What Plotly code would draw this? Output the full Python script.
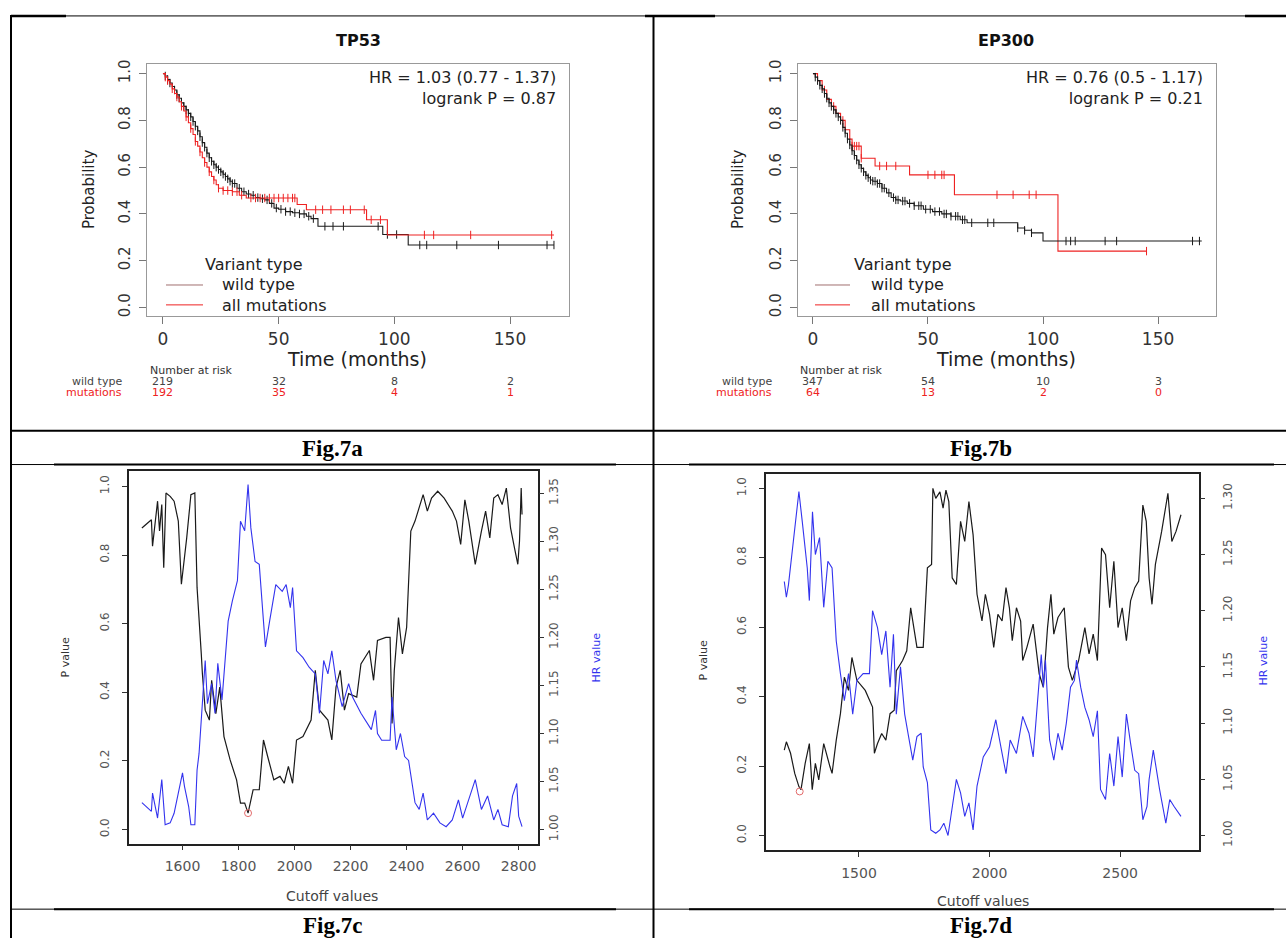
import numpy as np
import plotly.graph_objects as go

W, H = 1286, 939
def px(x): return x / W
def py(y): return 1 - y / H

FONT = "DejaVu Sans"

# ---------------- Fig.7a  TP53 Kaplan-Meier ----------------
tp53_wt_t = [0,1,2,3,4,5,6,7,8,9,10,11,12,13,14,15,16,17,18,19,20,21,22,23,24,25,26,27,28,29,30,32,34,36,38,40,42,44,46,48,50,53,56,59,62,64,67,95,106]
tp53_wt_s = [1.0,0.99,0.975,0.96,0.945,0.93,0.91,0.895,0.875,0.86,0.845,0.83,0.815,0.795,0.775,0.755,0.73,0.705,0.685,0.66,0.64,0.625,0.61,0.60,0.59,0.58,0.57,0.56,0.55,0.54,0.53,0.51,0.495,0.485,0.48,0.47,0.465,0.46,0.445,0.425,0.42,0.41,0.405,0.40,0.39,0.38,0.347,0.312,0.267]
tp53_wt_end = 169
tp53_wt_cens = [1,2,3,5,6,7,8,9,10,11,12,13,14,15,16,17,18,19,20,21,22,23,24,25,26,27,28,29,30,31,33,35,37,39,41,43,45,47,49,51,53,55,57,59,61,63,65,70,73.5,78,93,97,101,111,114,127,145,166,169]
tp53_mt_t = [0,1,2,3,4,5,6,7,8,9,10,11,12,13,14,15,16,17,18,19,20,21,22,23,24,26,30,33,36,58,62,88,97]
tp53_mt_s = [1.0,0.985,0.97,0.955,0.935,0.915,0.90,0.88,0.86,0.84,0.815,0.79,0.765,0.74,0.71,0.69,0.665,0.64,0.62,0.60,0.58,0.56,0.545,0.525,0.51,0.50,0.495,0.48,0.468,0.44,0.418,0.375,0.31]
tp53_mt_end = 169
tp53_mt_cens = [1,2,4,6,8,10,12,14,16,18,20,22,24,26,28,30,32,34,38,40,42,44,46,48,50,52,54,56,57,66,69,72.6,78,81,87,90,94,113,117,133,168]

# ---------------- Fig.7b  EP300 Kaplan-Meier ----------------
ep300_wt_t = [0,1,2,3,4,5,6,7,8,9,10,11,12,13,14,15,16,17,18,19,20,21,22,23,24,25,26,28,30,32,34,36,38,41,44,48,52,56,60,64,67,89,92,95,100]
ep300_wt_s = [1.0,0.985,0.97,0.95,0.935,0.915,0.895,0.875,0.86,0.845,0.83,0.815,0.80,0.77,0.745,0.72,0.695,0.67,0.65,0.63,0.61,0.595,0.58,0.565,0.555,0.545,0.54,0.53,0.51,0.49,0.47,0.46,0.455,0.445,0.435,0.42,0.41,0.40,0.39,0.375,0.362,0.34,0.33,0.319,0.284]
ep300_wt_end = 169
ep300_wt_cens = [1,2,3,4,5,6,7,8,9,10,11,12,13,14,15,16,17,18,19,20,21,22,23,24,25,26,27,28,29,30,31,33,35,36,37,39,40,42,44,46,47,49,51,53,55,57,58,60,62,63,65,66,69,76,78.6,89,92,95,110,112,114,127,132,165,168]
ep300_mt_t = [0,2,4,6,8,10,12,14,16,17,21,27,42,61.5,106.5]
ep300_mt_s = [1.0,0.97,0.93,0.89,0.86,0.83,0.80,0.76,0.72,0.69,0.638,0.605,0.567,0.482,0.241]
ep300_mt_end = 145
ep300_mt_cens = [5,9,13,17,18,19,20,21,29,32,36,50,53,56,57,80,87,94,97,145]

risk_times = [0, 50, 100, 150]
tp53_risk_wt = [219, 32, 8, 2]
tp53_risk_mt = [192, 35, 4, 1]
ep300_risk_wt = [347, 54, 10, 3]
ep300_risk_mt = [64, 13, 2, 0]

# ---------------- Fig.7c cutoff scan ----------------
c_p_x = [1455,1489,1493,1511,1518,1526,1533,1541,1556,1570,1585,1596,1615,1630,1644,1652,1667,1671,1681,1696,1704,1719,1733,1748,1770,1793,1807,1822,1834,1852,1874,1889,1904,1926,1948,1963,1978,1993,2007,2030,2059,2074,2089,2119,2133,2148,2163,2178,2193,2222,2237,2267,2282,2296,2326,2341,2348,2356,2371,2385,2400,2415,2430,2445,2459,2474,2489,2511,2534,2563,2578,2593,2608,2622,2645,2667,2682,2697,2711,2726,2741,2756,2771,2785,2797,2803,2809,2812]
c_p_y = [0.879,0.903,0.826,0.957,0.870,0.947,0.763,0.981,0.971,0.957,0.899,0.715,0.850,0.976,0.981,0.705,0.512,0.454,0.348,0.319,0.435,0.338,0.415,0.271,0.203,0.145,0.077,0.077,0.048,0.116,0.116,0.261,0.213,0.145,0.155,0.135,0.184,0.135,0.261,0.271,0.319,0.464,0.348,0.319,0.261,0.415,0.464,0.348,0.396,0.386,0.483,0.522,0.435,0.551,0.560,0.560,0.309,0.464,0.618,0.512,0.589,0.870,0.899,0.937,0.976,0.928,0.966,0.986,0.966,0.928,0.899,0.831,0.961,0.899,0.773,0.870,0.928,0.850,0.966,0.976,0.947,0.995,0.879,0.821,0.773,0.841,0.995,0.918]
c_hr_x = [1455,1489,1493,1511,1526,1538,1556,1570,1600,1607,1622,1630,1644,1652,1659,1671,1681,1689,1704,1716,1726,1741,1763,1778,1796,1807,1822,1834,1844,1859,1874,1889,1896,1911,1933,1956,1970,1985,1993,2007,2030,2052,2074,2089,2104,2119,2133,2148,2170,2193,2207,2237,2252,2274,2289,2296,2311,2341,2348,2363,2378,2393,2407,2430,2445,2459,2474,2496,2519,2541,2563,2585,2600,2622,2645,2667,2689,2711,2726,2741,2763,2778,2793,2800,2812]
c_hr_y = [1.028,1.019,1.038,1.012,1.052,1.005,1.007,1.017,1.059,1.045,1.024,1.005,1.005,1.062,1.079,1.135,1.176,1.131,1.152,1.121,1.173,1.135,1.217,1.238,1.259,1.321,1.311,1.359,1.314,1.279,1.276,1.217,1.190,1.217,1.255,1.248,1.255,1.231,1.252,1.186,1.179,1.169,1.162,1.121,1.176,1.162,1.186,1.155,1.128,1.152,1.138,1.121,1.114,1.104,1.124,1.100,1.093,1.093,1.138,1.083,1.100,1.076,1.072,1.028,1.021,1.038,1.010,1.017,1.007,1.003,1.010,1.031,1.012,1.031,1.052,1.021,1.035,1.010,1.021,1.005,1.003,1.035,1.048,1.014,1.003]
c_best = (1834, 0.048)

# ---------------- Fig.7d cutoff scan ----------------
d_p_x = [1214,1222,1238,1254,1270,1278,1294,1310,1321,1333,1346,1365,1389,1397,1413,1429,1444,1460,1473,1492,1524,1552,1559,1571,1587,1603,1619,1635,1643,1667,1683,1698,1722,1746,1762,1778,1783,1794,1810,1822,1833,1844,1857,1873,1889,1905,1921,1937,1952,1971,1984,2000,2016,2032,2048,2063,2076,2087,2103,2119,2127,2143,2167,2190,2206,2222,2235,2246,2262,2286,2302,2317,2341,2365,2381,2397,2413,2429,2444,2460,2476,2492,2508,2524,2540,2556,2571,2587,2600,2611,2622,2635,2659,2683,2698,2714,2733]
d_p_y = [0.246,0.270,0.237,0.179,0.141,0.132,0.208,0.265,0.132,0.208,0.160,0.265,0.198,0.179,0.275,0.351,0.456,0.418,0.513,0.447,0.418,0.370,0.237,0.265,0.294,0.275,0.351,0.361,0.475,0.504,0.532,0.656,0.542,0.542,0.771,0.781,1.000,0.971,0.990,0.943,0.995,0.962,0.742,0.723,0.905,0.847,0.962,0.866,0.695,0.618,0.695,0.637,0.542,0.637,0.618,0.714,0.656,0.561,0.656,0.618,0.504,0.542,0.609,0.466,0.427,0.599,0.695,0.580,0.628,0.656,0.485,0.447,0.504,0.599,0.523,0.580,0.504,0.828,0.809,0.656,0.790,0.599,0.656,0.561,0.676,0.714,0.733,0.952,0.905,0.742,0.666,0.781,0.876,0.986,0.847,0.876,0.924]
d_hr_x = [1214,1222,1230,1254,1270,1283,1302,1310,1322,1333,1349,1365,1381,1397,1413,1429,1444,1460,1476,1492,1516,1540,1552,1571,1587,1603,1619,1632,1643,1659,1675,1690,1706,1722,1738,1746,1762,1775,1794,1810,1825,1841,1857,1873,1889,1905,1921,1937,1952,1976,2000,2024,2048,2063,2079,2103,2127,2151,2167,2183,2198,2206,2214,2230,2246,2262,2278,2294,2310,2325,2333,2349,2365,2381,2397,2413,2425,2444,2460,2476,2492,2508,2524,2540,2556,2571,2587,2603,2611,2627,2651,2675,2690,2706,2733]
d_hr_y = [1.226,1.212,1.223,1.273,1.306,1.279,1.238,1.209,1.288,1.250,1.265,1.203,1.244,1.238,1.173,1.144,1.120,1.144,1.108,1.138,1.144,1.144,1.200,1.185,1.161,1.182,1.132,1.179,1.108,1.150,1.108,1.088,1.067,1.088,1.091,1.061,1.047,1.005,1.002,1.005,1.011,1.000,1.023,1.050,1.038,1.017,1.029,1.005,1.044,1.070,1.079,1.103,1.073,1.055,1.085,1.073,1.106,1.091,1.070,1.114,1.161,1.132,1.156,1.085,1.067,1.091,1.076,1.100,1.132,1.138,1.156,1.132,1.114,1.103,1.088,1.111,1.041,1.032,1.073,1.044,1.088,1.052,1.108,1.082,1.058,1.055,1.014,1.026,1.050,1.076,1.041,1.011,1.032,1.026,1.017]
d_best = (1273, 0.127)

BLACK = "#1a1a1a"
RED = "#ee2222"
BLUE = "#3333ee"

fig = go.Figure()

def km(t, s, t_end, cens, color, xa, ya):
    tt = list(t) + [t_end]
    ss = list(s) + [s[-1]]
    fig.add_trace(go.Scatter(x=tt, y=ss, mode="lines", xaxis=xa, yaxis=ya,
                             line=dict(color=color, width=1.1, shape="hv"),
                             showlegend=False, hoverinfo="skip"))
    idx = np.searchsorted(np.array(t, float), np.array(cens, float), side="right") - 1
    cy = np.array(s)[idx]
    fig.add_trace(go.Scatter(x=cens, y=cy, mode="markers", xaxis=xa, yaxis=ya,
                             marker=dict(symbol="line-ns", size=6, color=color,
                                         line=dict(color=color, width=1)),
                             showlegend=False, hoverinfo="skip"))

km(tp53_wt_t, tp53_wt_s, tp53_wt_end, tp53_wt_cens, BLACK, "x", "y")
km(tp53_mt_t, tp53_mt_s, tp53_mt_end, tp53_mt_cens, RED, "x", "y")
km(ep300_mt_t, ep300_mt_s, ep300_mt_end, ep300_mt_cens, RED, "x2", "y2")
km(ep300_wt_t, ep300_wt_s, ep300_wt_end, ep300_wt_cens, BLACK, "x2", "y2")

def scan(px_, py_, hx, hy, best, xa, ya, ya2):
    fig.add_trace(go.Scatter(x=px_, y=py_, mode="lines", xaxis=xa, yaxis=ya,
                             line=dict(color=BLACK, width=1.2), showlegend=False, hoverinfo="skip"))
    fig.add_trace(go.Scatter(x=hx, y=hy, mode="lines", xaxis=xa, yaxis=ya2,
                             line=dict(color=BLUE, width=1.1), showlegend=False, hoverinfo="skip"))
    fig.add_trace(go.Scatter(x=[best[0]], y=[best[1]], mode="markers", xaxis=xa, yaxis=ya,
                             marker=dict(symbol="circle-open", size=7, color="#e36b6b",
                                         line=dict(width=1)),
                             showlegend=False, hoverinfo="skip"))

scan(c_p_x, c_p_y, c_hr_x, c_hr_y, c_best, "x3", "y3", "y4")
scan(d_p_x, d_p_y, d_hr_x, d_hr_y, d_best, "x4", "y5", "y6")

km_xtick = dict(size=17, color="#333333", family=FONT)
km_ytick = dict(size=15, color="#333333", family=FONT)
sc_xtick = dict(size=14, color="#555555", family=FONT)
sc_ytick = dict(size=12, color="#555555", family=FONT)

def km_x(dom, rng):
    return dict(domain=dom, range=rng, tickvals=[0, 50, 100, 150], ticks="outside", ticklen=7,
                tickcolor="#777", showline=True, linecolor="#999", linewidth=1, mirror=True,
                showgrid=False, zeroline=False, tickfont=km_xtick, ticklabelstandoff=0)

def km_y(dom, anchor):
    return dict(domain=dom, range=[-0.038, 1.0426], anchor=anchor,
                tickvals=[0, 0.2, 0.4, 0.6, 0.8, 1.0],
                ticktext=["0.0", "0.2", "0.4", "0.6", "0.8", "1.0"],
                tickangle=-90, ticks="outside", ticklen=7, tickcolor="#777",
                showline=True, linecolor="#999", linewidth=1, mirror=True,
                showgrid=False, zeroline=False, tickfont=km_ytick, ticklabelstandoff=3)

def sc_x(dom, rng, tv, anchor):
    return dict(domain=dom, range=rng, tickvals=tv, anchor=anchor, ticks="outside", ticklen=5,
                tickcolor="#333", showline=True, linecolor="#222", linewidth=1.5, mirror=True,
                showgrid=False, zeroline=False, tickfont=sc_xtick, ticklabelstandoff=4)

def sc_yl(dom, rng, anchor):
    return dict(domain=dom, range=rng, anchor=anchor, tickvals=[0, 0.2, 0.4, 0.6, 0.8, 1.0],
                ticktext=["0.0", "0.2", "0.4", "0.6", "0.8", "1.0"], tickangle=-90,
                ticks="outside", ticklen=5, tickcolor="#333", showline=True, linecolor="#222",
                linewidth=1.5, mirror=True, showgrid=False, zeroline=False,
                tickfont=sc_ytick, ticklabelstandoff=8)

def sc_yr(rng, anchor, over, tv, standoff):
    return dict(range=rng, anchor=anchor, overlaying=over, side="right", tickvals=tv,
                ticktext=["%.2f" % v for v in tv], tickangle=-90, ticks="outside", ticklen=5,
                tickcolor="#333", showline=False, showgrid=False, zeroline=False,
                tickfont=sc_ytick, ticklabelstandoff=standoff)

dom_a_y = [py(314), py(60)]
hr_c = [1.00, 1.05, 1.10, 1.15, 1.20, 1.25, 1.30, 1.35]
hr_d = [1.00, 1.05, 1.10, 1.15, 1.20, 1.25, 1.30]

fig.update_layout(
    width=W, height=H, margin=dict(l=0, r=0, t=0, b=0),
    paper_bgcolor="white", plot_bgcolor="white", showlegend=False,
    font=dict(family=FONT),
    xaxis=km_x([px(147), px(569)], [-6.9, 175.5]),
    yaxis=km_y(dom_a_y, "x"),
    xaxis2=dict(km_x([px(798), px(1216)], [-6.5, 175.2]), anchor="y2"),
    yaxis2=km_y(dom_a_y, "x2"),
    xaxis3=sc_x([px(129), px(538)], [1409, 2869], [1600, 1800, 2000, 2200, 2400, 2600, 2800], "y3"),
    yaxis3=sc_yl([py(844), py(470)], [-0.0406, 1.0435], "x3"),
    yaxis4=sc_yr([0.9855, 1.3727], "x3", "y3", hr_c, 0),
    xaxis4=sc_x([px(766), px(1199)], [1144, 2802], [1500, 2000, 2500], "y5"),
    yaxis5=sc_yl([py(851), py(473)], [-0.043, 1.040], "x4"),
    yaxis6=sc_yr([0.9867, 1.3212], "x4", "y5", hr_d, 13),
)

ann = []
def text(x, y, s, size, color="#222", xanchor="center", angle=0, bold=False, fam=FONT,
         xref="paper", yref="paper", align="center"):
    ann.append(dict(x=x, y=y, xref=xref, yref=yref, text=("<b>%s</b>" % s) if bold else s,
                    showarrow=False, xanchor=xanchor, yanchor="middle", textangle=angle,
                    align=align, font=dict(size=size, color=color, family=fam)))

# KM panel texts
for (cx, title, hr, lp, ax_ref, prob_x, xtitle_x, leg_tx, vt_x, nar_x, lab_r,
     rwt, rmt) in [
    (358, "TP53", "HR = 1.03 (0.77 - 1.37)", "logrank P = 0.87", "x", 89, 357, 220, 254, 148, 124,
     tp53_risk_wt, tp53_risk_mt),
    (1006, "EP300", "HR = 0.76 (0.5 - 1.17)", "logrank P = 0.21", "x2", 738, 1006, 869, 903, 798, 774,
     ep300_risk_wt, ep300_risk_mt)]:
    text(px(cx), py(37), title, 16, "#111", bold=True)
    right = 558 if ax_ref == "x" else 1205
    text(px(right), py(84.5), hr + "<br>" + lp, 16, "#222", xanchor="right", align="right")
    text(px(prob_x), py(187), "Probability", 15, "#222", angle=-90)
    text(px(xtitle_x), py(357), "Time (months)", 19, "#222")
    text(px(vt_x), py(262), "Variant type", 16, "#222")
    text(px(leg_tx), py(292.4), "wild type<br>all mutations", 16, "#222", xanchor="left", align="left")
    text(px(nar_x), py(368), "Number at risk", 11, "#333", xanchor="left")
    text(px(lab_r), py(380), "wild type", 11, "#444", xanchor="right")
    text(px(lab_r), py(391), "mutations", 11, RED, xanchor="right")
    for t, a, b in zip(risk_times, rwt, rmt):
        text(t, py(380), str(a), 11, "#444", xref=ax_ref)
        text(t, py(391), str(b), 11, RED, xref=ax_ref)

# scan panel texts
text(px(66), py(657), "P value", 11, "#333", angle=-90)
text(px(597), py(657), "HR value", 11, BLUE, angle=-90)
text(px(332), py(897), "Cutoff values", 14, "#444")
text(px(703), py(660), "P value", 11, "#333", angle=-90)
text(px(1263), py(660), "HR value", 11, BLUE, angle=-90)
text(px(983), py(902), "Cutoff values", 14, "#444")

SERIF = "Liberation Serif"
text(px(332), py(447), "Fig.7a", 23, "#000", bold=True, fam=SERIF)
text(px(981), py(447), "Fig.7b", 23, "#000", bold=True, fam=SERIF)
text(px(332), py(926), "Fig.7c", 23, "#000", bold=True, fam=SERIF)
text(px(981), py(926), "Fig.7d", 23, "#000", bold=True, fam=SERIF)

fig.update_layout(annotations=ann)

shapes = []
def hline(x0, x1, y, w):
    shapes.append(dict(type="line", xref="paper", yref="paper", x0=px(x0), x1=px(x1),
                       y0=py(y), y1=py(y), line=dict(color="black", width=w)))
def vline(x, y0, y1, w):
    shapes.append(dict(type="line", xref="paper", yref="paper", x0=px(x), x1=px(x),
                       y0=py(y0), y1=py(y1), line=dict(color="black", width=w)))

# table borders
hline(11, 1286, 12, 1)
hline(11, 66, 12, 2.5)
hline(645, 715, 12, 2.5)
hline(1245, 1286, 12, 2.5)
vline(11, 11, 939, 2)
vline(653.5, 11, 939, 2)
hline(11, 1286, 429, 2)
hline(11, 1286, 463, 1)
hline(54, 616, 463, 2)
hline(689, 1274, 463, 2)
hline(11, 1286, 910, 1)
hline(54, 616, 910, 2)
hline(689, 1274, 910, 2)

# KM legend line samples
for x0, x1 in [(166, 203), (815, 850)]:
    shapes.append(dict(type="line", xref="paper", yref="paper", x0=px(x0), x1=px(x1),
                       y0=py(282.5), y1=py(282.5), line=dict(color="#a07070", width=1)))
    shapes.append(dict(type="line", xref="paper", yref="paper", x0=px(x0), x1=px(x1),
                       y0=py(302.5), y1=py(302.5), line=dict(color=RED, width=1)))

fig.update_layout(shapes=shapes)
fig.write_html("out.html", config={"displayModeBar": False},
               post_script="document.body.style.margin='0px';document.body.style.overflow='hidden';")
